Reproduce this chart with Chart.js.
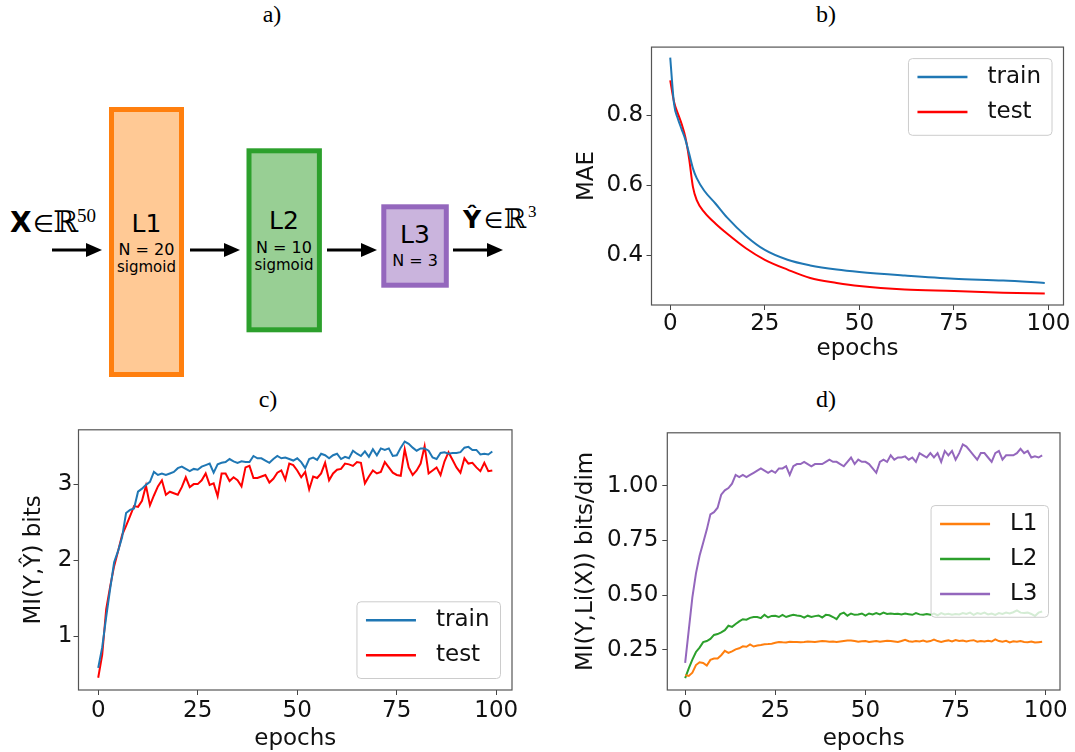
<!DOCTYPE html>
<html>
<head>
<meta charset="utf-8">
<script src="https://cdn.jsdelivr.net/npm/chart.js@4.4.1/dist/chart.umd.min.js"></script>
<style>
  html, body { margin: 0; padding: 0; background: #fff; }
  body { width: 1075px; height: 752px; position: relative; overflow: hidden; font-family: "DejaVu Sans", sans-serif; }
  .panel-title { position: absolute; font-family: "Liberation Serif", serif; font-size: 24px; color: #000; transform: translate(-50%, -50%); }
  canvas { position: absolute; }
  #diagram { position: absolute; left: 0; top: 0; }
</style>
</head>
<body>
<div class="panel-title" style="left:272px;top:14px">a)</div>
<div class="panel-title" style="left:826px;top:14px">b)</div>
<div class="panel-title" style="left:268px;top:399px">c)</div>
<div class="panel-title" style="left:826px;top:399px">d)</div>

<svg id="diagram" width="545" height="395" viewBox="0 0 545 395">
  <rect x="111.5" y="109.5" width="70" height="265" fill="#ffc995" stroke="#ff7f0e" stroke-width="5"/>
  <rect x="249" y="150.8" width="70.4" height="179" fill="#98cf94" stroke="#2ca02c" stroke-width="5"/>
  <rect x="383.8" y="206.8" width="62.5" height="78.4" fill="#cab4dd" stroke="#9467bd" stroke-width="5"/>

  <g stroke="#000" stroke-width="3">
    <line x1="52" y1="250" x2="90" y2="250"/>
    <line x1="190" y1="250" x2="228" y2="250"/>
    <line x1="327" y1="250" x2="365" y2="250"/>
    <line x1="453" y1="250" x2="491" y2="250"/>
  </g>
  <g fill="#000">
    <polygon points="86,243 102,250 86,257"/>
    <polygon points="224,243 240,250 224,257"/>
    <polygon points="361,243 377,250 361,257"/>
    <polygon points="487,243 503,250 487,257"/>
  </g>

  <g font-family="DejaVu Sans" fill="#000" text-anchor="middle">
    <text x="146.5" y="231.7" font-size="25">L1</text>
    <text x="146.5" y="255" font-size="16">N = 20</text>
    <text x="146.5" y="272" font-size="15">sigmoid</text>
    <text x="284" y="229.3" font-size="25">L2</text>
    <text x="284" y="253.3" font-size="16">N = 10</text>
    <text x="284" y="270" font-size="15">sigmoid</text>
    <text x="415" y="242.7" font-size="25">L3</text>
    <text x="415" y="266" font-size="16">N = 3</text>
  </g>

  <text x="10" y="232" font-family="DejaVu Sans" font-weight="bold" font-size="28">X</text>
  <text x="33" y="232" font-family="DejaVu Sans" font-size="24">∈</text>
  <text x="53" y="232" font-family="DejaVu Serif" font-size="30">ℝ</text>
  <text x="77" y="221.5" font-family="Liberation Serif" font-size="19">50</text>

  <text x="463" y="228.3" font-family="DejaVu Sans" font-weight="bold" font-size="25">Ŷ</text>
  <text x="484" y="228.3" font-family="DejaVu Sans" font-size="22">∈</text>
  <text x="504" y="228.3" font-family="DejaVu Serif" font-size="27">ℝ</text>
  <text x="528" y="217" font-family="Liberation Serif" font-size="17">3</text>
</svg>

<canvas id="maeChart" width="515" height="339" style="left:560px;top:30px"></canvas>
<canvas id="miChart" width="540" height="339" style="left:0px;top:415px"></canvas>
<canvas id="layerChart" width="515" height="339" style="left:560px;top:415px"></canvas>

<script>
// ---- data ----
const X_TICKS = [0, 25, 50, 75, 100];
const EPOCHS = Array.from({ length: 100 }, (_, i) => i);

// b) MAE (sampled epochs, smooth curves)
const MAE_EPOCHS = [0, 1, 2, 3, 4, 5, 6, 7, 9, 12, 15, 20, 25, 31, 37, 44, 50, 62, 75, 88, 99];
const MAE_TRAIN = [0.964, 0.833, 0.79, 0.76, 0.73, 0.69, 0.648, 0.62, 0.584, 0.547, 0.508, 0.455, 0.415, 0.387, 0.371, 0.359, 0.352, 0.342, 0.333, 0.328, 0.321];
const MAE_TEST = [0.899, 0.838, 0.805, 0.775, 0.737, 0.675, 0.595, 0.557, 0.523, 0.49, 0.462, 0.42, 0.387, 0.359, 0.335, 0.321, 0.312, 0.302, 0.298, 0.293, 0.291];
const MAE_TICKS = [0.4, 0.6, 0.8];

// c) MI(Y, Y_hat)
const MI_TRAIN = [
  0.58, 0.85, 1.25, 1.62, 1.97, 2.12, 2.30, 2.62, 2.66, 2.68,
  2.90, 2.94, 2.99, 3.03, 3.16, 3.12, 3.14, 3.12, 3.14, 3.16,
  3.21, 3.23, 3.20, 3.17, 3.20, 3.19, 3.23, 3.25, 3.27, 3.15,
  3.26, 3.28, 3.29, 3.33, 3.30, 3.28, 3.30, 3.29, 3.29, 3.37,
  3.34, 3.34, 3.31, 3.28, 3.33, 3.37, 3.34, 3.35, 3.33, 3.31,
  3.34, 3.29, 3.21, 3.33, 3.35, 3.32, 3.40, 3.38, 3.34, 3.38,
  3.40, 3.33, 3.36, 3.34, 3.44, 3.40, 3.37, 3.43, 3.36, 3.46,
  3.38, 3.47, 3.45, 3.47, 3.37, 3.38, 3.48, 3.56, 3.53, 3.48,
  3.44, 3.47, 3.47, 3.44, 3.35, 3.33, 3.41, 3.42, 3.40, 3.41,
  3.41, 3.42, 3.48, 3.49, 3.45, 3.45, 3.39, 3.40, 3.39, 3.43
];
const MI_TEST = [
  0.45, 0.75, 1.35, 1.65, 1.92, 2.12, 2.33, 2.45, 2.58, 2.71,
  2.70, 2.78, 2.98, 2.72, 2.85, 2.97, 3.05, 2.86, 2.90, 2.88,
  2.86, 2.96, 3.09, 2.96, 3.00, 3.00, 3.05, 3.14, 2.99, 3.01,
  2.84, 3.14, 3.14, 3.04, 3.09, 3.05, 2.97, 3.22, 3.24, 3.08,
  3.08, 3.10, 3.12, 3.02, 3.07, 3.15, 3.18, 3.06, 3.27, 3.25,
  3.18, 3.09, 3.16, 2.93, 3.10, 3.08, 3.14, 3.28, 3.05, 3.14,
  3.19, 3.20, 3.27, 3.26, 3.24, 3.29, 3.28, 3.01, 3.10, 3.18,
  3.14, 3.16, 3.29, 3.22, 3.15, 3.12, 3.11, 3.46, 3.22, 3.12,
  3.18, 3.27, 3.50, 3.14, 3.18, 3.22, 3.12, 3.30, 3.42, 3.32,
  3.22, 3.15, 3.34, 3.27, 3.28, 3.22, 3.17, 3.28, 3.17, 3.18
];
const MI_TICKS = [1, 2, 3];

// d) MI(Y, Li(X)) per dim
const L1_MI = [
  0.134, 0.130, 0.145, 0.180, 0.193, 0.190, 0.178, 0.204, 0.210, 0.210,
  0.225, 0.245, 0.236, 0.243, 0.252, 0.257, 0.266, 0.264, 0.275, 0.265,
  0.270, 0.272, 0.275, 0.276, 0.278, 0.282, 0.286, 0.284, 0.283, 0.287,
  0.286, 0.286, 0.285, 0.286, 0.288, 0.287, 0.286, 0.288, 0.290, 0.289,
  0.287, 0.288, 0.286, 0.288, 0.290, 0.292, 0.293, 0.290, 0.287, 0.289,
  0.290, 0.286, 0.288, 0.290, 0.287, 0.289, 0.291, 0.290, 0.288, 0.286,
  0.290, 0.296, 0.289, 0.287, 0.290, 0.288, 0.292, 0.287, 0.290, 0.297,
  0.290, 0.286, 0.290, 0.293, 0.288, 0.295, 0.290, 0.292, 0.288, 0.292,
  0.294, 0.287, 0.290, 0.288, 0.291, 0.288, 0.298, 0.290, 0.287, 0.291,
  0.284, 0.289, 0.287, 0.290, 0.286, 0.285, 0.288, 0.283, 0.285, 0.287
];
const L2_MI = [
  0.120, 0.165, 0.205, 0.240, 0.260, 0.285, 0.290, 0.300, 0.318, 0.322,
  0.330, 0.340, 0.360, 0.355, 0.368, 0.380, 0.390, 0.388, 0.396, 0.400,
  0.400, 0.395, 0.410, 0.398, 0.405, 0.406, 0.400, 0.410, 0.400, 0.406,
  0.410, 0.407, 0.405, 0.397, 0.406, 0.400, 0.404, 0.407, 0.398, 0.410,
  0.408, 0.400, 0.390, 0.413, 0.420, 0.406, 0.416, 0.410, 0.412, 0.416,
  0.406, 0.416, 0.412, 0.418, 0.412, 0.420, 0.414, 0.416, 0.414, 0.415,
  0.412, 0.416, 0.413, 0.410, 0.418, 0.412, 0.410, 0.414, 0.410, 0.416,
  0.408, 0.418, 0.412, 0.415, 0.410, 0.414, 0.412, 0.418, 0.414, 0.420,
  0.410, 0.418, 0.414, 0.420, 0.412, 0.416, 0.410, 0.418, 0.414, 0.420,
  0.416, 0.422, 0.430, 0.420, 0.418, 0.420, 0.414, 0.405, 0.420, 0.425
];
const L3_MI = [
  0.19, 0.34, 0.49, 0.60, 0.68, 0.74, 0.80, 0.87, 0.88, 0.90,
  0.96, 0.98, 0.99, 1.01, 1.05, 1.04, 1.05, 1.04, 1.05, 1.06,
  1.07, 1.08, 1.07, 1.06, 1.07, 1.06, 1.08, 1.08, 1.09, 1.05,
  1.09, 1.10, 1.10, 1.11, 1.10, 1.09, 1.10, 1.10, 1.10, 1.11,
  1.12, 1.11, 1.11, 1.10, 1.09, 1.11, 1.13, 1.10, 1.12, 1.11,
  1.11, 1.10, 1.08, 1.06, 1.11, 1.12, 1.11, 1.14, 1.12, 1.13,
  1.13, 1.135, 1.12, 1.13, 1.11, 1.15, 1.14, 1.13, 1.15, 1.13,
  1.15, 1.11, 1.16, 1.14, 1.16, 1.12, 1.15, 1.19, 1.18, 1.16,
  1.14, 1.12, 1.15, 1.15, 1.13, 1.11, 1.15, 1.16, 1.12, 1.14,
  1.14, 1.14, 1.15, 1.17, 1.15, 1.16, 1.13, 1.135, 1.13, 1.14
];
const LAYER_TICKS = [0.25, 0.5, 0.75, 1.0];

const COLORS = { train: "#1f77b4", test: "#ff0000", l1: "#ff7f0e", l2: "#2ca02c", l3: "#9467bd" };
const FONT = { family: "DejaVu Sans", size: 23 };
const TEXT_COLOR = "#111";

// matplotlib style box around the axes
const axesFrame = {
  id: "axesFrame",
  afterDatasetsDraw(chart) {
    const { ctx, chartArea: a } = chart;
    ctx.save();
    ctx.strokeStyle = "#555";
    ctx.lineWidth = 1.2;
    ctx.strokeRect(a.left, a.top, a.right - a.left, a.bottom - a.top);
    ctx.restore();
  }
};

// legend drawn inside the plot area
const insideLegend = {
  id: "insideLegend",
  afterDatasetsDraw(chart, args, opts) {
    const { ctx, chartArea: a } = chart;
    const sets = chart.data.datasets;
    ctx.save();
    ctx.font = `${FONT.size}px "${FONT.family}"`;
    const textW = Math.max(...sets.map(d => ctx.measureText(d.label).width));
    const w = 79 + textW + 11;
    const h = sets.length * 35 + 6.7;
    const pad = 11.5;
    const x = a.right - pad - w;
    let y;
    if (opts.loc === "upper right") y = a.top + pad;
    else if (opts.loc === "lower right") y = a.bottom - pad - h;
    else y = (a.top + a.bottom - h) / 2;

    ctx.beginPath();
    if (ctx.roundRect) ctx.roundRect(x, y, w, h, 4); else ctx.rect(x, y, w, h);
    ctx.fillStyle = "rgba(255,255,255,0.8)";
    ctx.fill();
    ctx.strokeStyle = "#cccccc";
    ctx.lineWidth = 1;
    ctx.stroke();

    sets.forEach((d, i) => {
      const cy = y + 18.5 + i * 35;
      ctx.strokeStyle = d.borderColor;
      ctx.lineWidth = 2.5;
      ctx.beginPath();
      ctx.moveTo(x + 9, cy);
      ctx.lineTo(x + 59, cy);
      ctx.stroke();
      ctx.fillStyle = TEXT_COLOR;
      ctx.textBaseline = "middle";
      ctx.textAlign = "left";
      ctx.fillText(d.label, x + 79, cy);
    });
    ctx.restore();
  }
};

function makeChart(id, cfg) {
  const ctx = document.getElementById(id);
  return new Chart(ctx, {
    type: "line",
    data: {
      labels: cfg.x,
      datasets: cfg.series.map(s => ({
        label: s.label,
        data: s.data,
        borderColor: s.color,
        borderWidth: 2,
        pointRadius: 0,
        fill: false,
        tension: 0,
        cubicInterpolationMode: cfg.smooth ? "monotone" : "default"
      }))
    },
    options: {
      responsive: false,
      animation: false,
      events: [],
      layout: { padding: { top: cfg.padTop, right: cfg.padRight, left: 0, bottom: 0 } },
      plugins: {
        legend: { display: false },
        tooltip: { enabled: false },
        insideLegend: { loc: cfg.legendLoc }
      },
      scales: {
        x: {
          type: "linear",
          min: -4.95,
          max: 103.95,
          afterBuildTicks: s => { s.ticks = X_TICKS.map(v => ({ value: v })); },
          afterFit: s => { s.height = 64; },
          grid: { display: true, drawOnChartArea: false, drawTicks: true, tickLength: 5, color: "#444" },
          border: { display: false },
          ticks: { padding: cfg.xTickPad, font: FONT, color: TEXT_COLOR, maxRotation: 0, autoSkip: false },
          title: { display: true, text: "epochs", font: FONT, color: TEXT_COLOR, padding: { top: 0, bottom: cfg.xTitlePad } }
        },
        y: {
          type: "linear",
          min: cfg.yMin,
          max: cfg.yMax,
          afterBuildTicks: s => { s.ticks = cfg.yTicks.map(v => ({ value: v })); },
          afterFit: s => { s.width = cfg.yWidth; },
          grid: { display: true, drawOnChartArea: false, drawTicks: true, tickLength: 5, color: "#444" },
          border: { display: false },
          ticks: { padding: cfg.yTickPad, font: FONT, color: TEXT_COLOR, callback: v => v.toFixed(cfg.yDigits) },
          title: { display: true, text: cfg.yTitle, font: FONT, color: TEXT_COLOR, padding: { top: cfg.yTitlePad, bottom: 0 } }
        }
      }
    },
    plugins: [axesFrame, insideLegend]
  });
}

makeChart("maeChart", {
  x: MAE_EPOCHS,
  smooth: true,
  series: [
    { label: "train", data: MAE_TRAIN, color: COLORS.train },
    { label: "test", data: MAE_TEST, color: COLORS.test }
  ],
  legendLoc: "upper right",
  padTop: 12.7, padRight: 11.5, yWidth: 91.5,
  yMin: 0.258, yMax: 0.994, yTicks: MAE_TICKS, yDigits: 1,
  yTitle: "MAE", yTitlePad: 13.7, yTickPad: 3.3,
  xTickPad: 0, xTitlePad: 6.5
});

makeChart("miChart", {
  x: EPOCHS,
  series: [
    { label: "train", data: MI_TRAIN, color: COLORS.train },
    { label: "test", data: MI_TEST, color: COLORS.test }
  ],
  legendLoc: "lower right",
  padTop: 12.3, padRight: 28, yWidth: 78.5,
  yMin: 0.289, yMax: 3.715, yTicks: MI_TICKS, yDigits: 0,
  yTitle: "MI(Y,Ŷ) bits", yTitlePad: 20, yTickPad: 1,
  xTickPad: 2, xTitlePad: 1.6
});

makeChart("layerChart", {
  x: EPOCHS,
  series: [
    { label: "L1", data: L1_MI, color: COLORS.l1 },
    { label: "L2", data: L2_MI, color: COLORS.l2 },
    { label: "L3", data: L3_MI, color: COLORS.l3 }
  ],
  legendLoc: "center right",
  padTop: 12.3, padRight: 15, yWidth: 107.3,
  yMin: 0.066, yMax: 1.243, yTicks: LAYER_TICKS, yDigits: 2,
  yTitle: "MI(Y,Li(X)) bits/dim", yTitlePad: 12, yTickPad: 4,
  xTickPad: 2, xTitlePad: 1.6
});
</script>
</body>
</html>
